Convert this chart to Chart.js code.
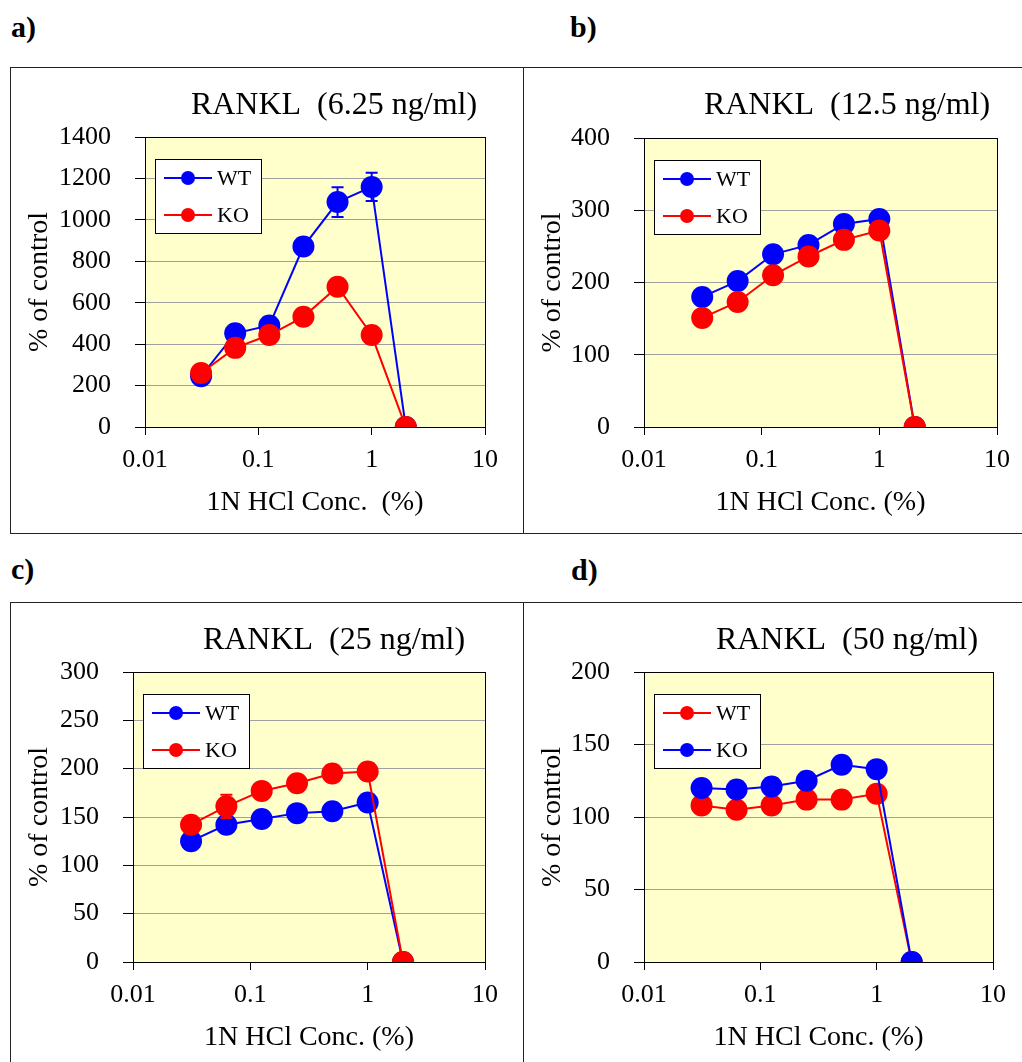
<!DOCTYPE html>
<html>
<head>
<meta charset="utf-8">
<script src="https://cdn.jsdelivr.net/npm/chart.js@4.4.0/dist/chart.umd.min.js"></script>
<style>
  html, body { margin: 0; padding: 0; background: #fff; overflow: hidden; }
  body { width: 1022px; height: 1062px; position: relative; font-family: "Liberation Serif", "Times New Roman", serif; }
  .lbl { position: absolute; font-weight: bold; font-size: 30px; line-height: 1; }
  .box { position: absolute; box-sizing: border-box; border: 1px solid #222; overflow: hidden; }
  .box canvas { position: absolute; left: 0; top: 0; }
</style>
</head>
<body>
<div class="lbl" style="left:11px;top:12px">a)</div>
<div class="lbl" style="left:570px;top:12px">b)</div>
<div class="lbl" style="left:11px;top:554px">c)</div>
<div class="lbl" style="left:571px;top:555px">d)</div>

<div class="box" style="left:10px;top:67px;width:514px;height:467px"><canvas id="ca" width="512" height="464"></canvas></div>
<div class="box" style="left:523px;top:67px;width:520px;height:467px"><canvas id="cb" width="498" height="464"></canvas></div>
<div class="box" style="left:10px;top:602px;width:514px;height:480px"><canvas id="cc" width="512" height="464"></canvas></div>
<div class="box" style="left:523px;top:602px;width:520px;height:480px"><canvas id="cd" width="498" height="464"></canvas></div>

<script>
// x: 1N HCl concentration (%), log scale
const conc = [0.03125, 0.0625, 0.125, 0.25, 0.5, 1, 2];
const xTicks = [0.01, 0.1, 1, 10];

// a) RANKL 6.25 ng/ml
const yTicksA = [0, 200, 400, 600, 800, 1000, 1200, 1400];
const wtA = [245, 452, 490, 871, 1086, 1159, 0];
const wtErrA = [0, 0, 0, 0, 72, 68, 0];
const koA = [261, 382, 444, 532, 677, 444, 0];

// b) RANKL 12.5 ng/ml
const yTicksB = [0, 100, 200, 300, 400];
const wtB = [180, 202, 239, 252, 281, 288, 0];
const koB = [151, 173, 210, 236, 259, 272, 0];

// c) RANKL 25 ng/ml
const yTicksC = [0, 50, 100, 150, 200, 250, 300];
const wtC = [125, 142, 148, 154, 156, 165, 0];
const koC = [142, 161, 177, 185, 195, 197, 0];
const koErrC = [0, 12, 0, 0, 0, 0, 0];

// d) RANKL 50 ng/ml
const yTicksD = [0, 50, 100, 150, 200];
const wtD = [108, 105, 108, 112, 112, 116, 0];
const koD = [120, 119, 121, 125, 136, 133, 0];

const BLUE = '#0000ff';
const RED = '#ff0000';
const FONT = '"Liberation Serif", "Times New Roman", serif';

const panels = [
  { canvas: 'ca', title: 'RANKL  (6.25 ng/ml)', xTitle: '1N HCl Conc.  (%)', yTicks: yTicksA,
    plot: { left: 134, right: 474, top: 69, bottom: 359 },
    series: [{ label: 'WT', data: wtA, err: wtErrA, color: BLUE }, { label: 'KO', data: koA, err: null, color: RED }] },
  { canvas: 'cb', title: 'RANKL  (12.5 ng/ml)', xTitle: '1N HCl Conc. (%)', yTicks: yTicksB,
    plot: { left: 120, right: 473, top: 70, bottom: 359 },
    series: [{ label: 'WT', data: wtB, err: null, color: BLUE }, { label: 'KO', data: koB, err: null, color: RED }] },
  { canvas: 'cc', title: 'RANKL  (25 ng/ml)', xTitle: '1N HCl Conc. (%)', yTicks: yTicksC,
    plot: { left: 122, right: 474, top: 69, bottom: 359 },
    series: [{ label: 'WT', data: wtC, err: null, color: BLUE }, { label: 'KO', data: koC, err: koErrC, color: RED }] },
  { canvas: 'cd', title: 'RANKL  (50 ng/ml)', xTitle: '1N HCl Conc. (%)', yTicks: yTicksD,
    plot: { left: 120, right: 469, top: 69, bottom: 359 },
    series: [{ label: 'WT', data: wtD, err: null, color: RED }, { label: 'KO', data: koD, err: null, color: BLUE }] }
];

// background, frame, error bars, boxed legend and title
const panelDeco = {
  id: 'panelDeco',
  beforeDraw(chart) {
    const { ctx, chartArea: a } = chart;
    ctx.save();
    ctx.fillStyle = '#ffffcc';
    ctx.fillRect(a.left, a.top, a.right - a.left, a.bottom - a.top);
    ctx.restore();
  },
  beforeDatasetsDraw(chart) {
    const { ctx, chartArea: a } = chart;
    ctx.save();
    ctx.strokeStyle = '#000';
    ctx.lineWidth = 1;
    ctx.strokeRect(a.left + 0.5, a.top + 0.5, a.right - a.left, a.bottom - a.top);
    ctx.restore();
  },
  beforeDatasetDraw(chart, args) {
    const ds = chart.data.datasets[args.index];
    if (!ds.errors) return;
    const { ctx } = chart;
    const xs = chart.scales.x, ys = chart.scales.y;
    ctx.save();
    ctx.strokeStyle = ds.borderColor;
    ctx.lineWidth = 2;
    ds.data.forEach((p, j) => {
      const e = ds.errors[j];
      if (!e) return;
      const x = xs.getPixelForValue(p.x);
      const y1 = ys.getPixelForValue(p.y + e);
      const y2 = ys.getPixelForValue(p.y - e);
      ctx.beginPath();
      ctx.moveTo(x, y1); ctx.lineTo(x, y2);
      ctx.moveTo(x - 6, y1); ctx.lineTo(x + 6, y1);
      ctx.moveTo(x - 6, y2); ctx.lineTo(x + 6, y2);
      ctx.stroke();
    });
    ctx.restore();
  },
  afterDatasetsDraw(chart, args, opts) {
    const { ctx, chartArea: a } = chart;
    ctx.save();
    // legend
    const bx = a.left + 10, by = a.top + 22, bw = 106, bh = 74;
    ctx.fillStyle = '#fff';
    ctx.fillRect(bx, by, bw, bh);
    ctx.strokeStyle = '#000';
    ctx.lineWidth = 1;
    ctx.strokeRect(bx + 0.5, by + 0.5, bw, bh);
    chart.data.datasets.forEach((ds, i) => {
      const cy = by + 19 + i * 37;
      ctx.strokeStyle = ds.borderColor;
      ctx.lineWidth = 2;
      ctx.beginPath();
      ctx.moveTo(bx + 9, cy); ctx.lineTo(bx + 57, cy);
      ctx.stroke();
      ctx.fillStyle = ds.borderColor;
      ctx.beginPath();
      ctx.arc(bx + 33, cy, 7, 0, Math.PI * 2);
      ctx.fill();
      ctx.fillStyle = '#000';
      ctx.font = '22px ' + FONT;
      ctx.textAlign = 'left';
      ctx.textBaseline = 'middle';
      ctx.fillText(ds.label, bx + 62, cy + 1);
    });
    // title
    ctx.fillStyle = '#000';
    ctx.font = '32px ' + FONT;
    ctx.textAlign = 'center';
    ctx.textBaseline = 'alphabetic';
    ctx.fillText(opts.title, opts.titleX, opts.titleY);
    ctx.restore();
  }
};

panels.forEach(p => {
  const canvas = document.getElementById(p.canvas);
  const W = canvas.width, H = canvas.height;
  const datasets = p.series.map((s, i) => ({
    label: s.label,
    data: conc.map((x, j) => ({ x: x, y: s.data[j] })),
    errors: s.err,
    borderColor: s.color,
    backgroundColor: s.color,
    pointBackgroundColor: s.color,
    pointBorderColor: s.color,
    pointBorderWidth: 0,
    pointRadius: 11,
    pointHoverRadius: 11,
    borderWidth: 2,
    tension: 0,
    order: i === 0 ? 1 : 0
  }));

  new Chart(canvas, {
    type: 'line',
    data: { datasets: datasets },
    options: {
      responsive: false,
      animation: false,
      events: [],
      layout: { padding: { left: 0, top: p.plot.top, right: W - p.plot.right, bottom: 0 } },
      plugins: {
        legend: { display: false },
        tooltip: { enabled: false },
        panelDeco: { title: p.title, titleX: 323, titleY: 46 }
      },
      scales: {
        x: {
          type: 'logarithmic',
          min: xTicks[0],
          max: xTicks[xTicks.length - 1],
          afterBuildTicks: sc => { sc.ticks = xTicks.map(v => ({ value: v, major: true })); },
          afterFit: sc => { sc.height = H - p.plot.bottom; },
          ticks: {
            color: '#000', font: { family: FONT, size: 26 }, padding: 10,
            maxRotation: 0, autoSkip: false,
            callback: v => String(v)
          },
          grid: { drawOnChartArea: false, drawTicks: true, tickLength: 8, tickColor: '#000', tickWidth: 1 },
          border: { display: true, color: '#000', width: 1 },
          title: {
            display: true, text: p.xTitle, color: '#000',
            font: { family: FONT, size: 28 }, padding: { top: 0, bottom: 13 }
          }
        },
        y: {
          type: 'linear',
          min: p.yTicks[0],
          max: p.yTicks[p.yTicks.length - 1],
          afterBuildTicks: sc => { sc.ticks = p.yTicks.map(v => ({ value: v })); },
          afterFit: sc => { sc.width = p.plot.left; },
          ticks: {
            color: '#000', font: { family: FONT, size: 26 }, padding: 24,
            callback: v => String(v)
          },
          grid: { color: '#a0a0a0', lineWidth: 1, drawTicks: true, tickLength: 10, tickColor: '#000', tickWidth: 1 },
          border: { display: true, color: '#000', width: 1 },
          title: {
            display: true, text: '% of control', color: '#000',
            font: { family: FONT, size: 28 }, padding: { top: 12, bottom: 0 }
          }
        }
      }
    },
    plugins: [panelDeco]
  });
});
</script>
</body>
</html>
